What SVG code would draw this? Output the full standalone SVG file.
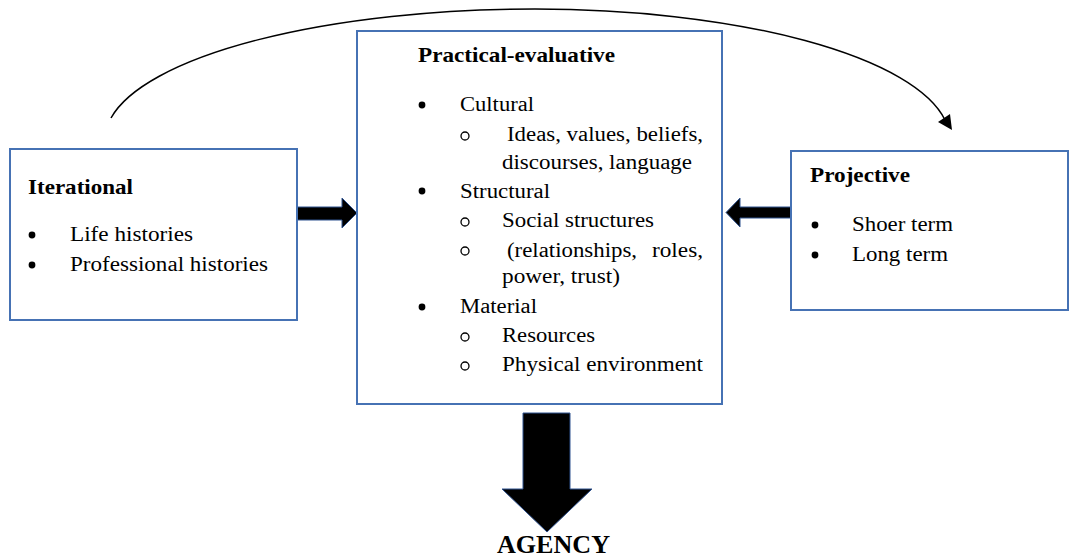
<svg xmlns="http://www.w3.org/2000/svg" width="1070" height="559" viewBox="0 0 1070 559">
<style>
.box{fill:#fff;stroke:#4672b4;stroke-width:2}
.t{font-family:"Liberation Serif","Times New Roman",serif;font-size:20px;fill:#000}
.h{font-family:"Liberation Serif","Times New Roman",serif;font-size:21px;font-weight:bold;fill:#000}
.b{fill:#000}
.ring{fill:none;stroke:#000;stroke-width:1.3}
.fat{fill:#000;stroke:#2f528f;stroke-width:1}
.curve{fill:none;stroke:#000;stroke-width:1.5}
</style>
<rect width="1070" height="559" fill="#fff"/>
<g id="connectors">
  <path class="curve" d="M111,118 A430,131 0 0 1 535,9 A415,131 0 0 1 945,120"/>
  <polygon points="938,122 950,114 952,130" fill="#000"/>
  <polygon class="fat" points="297,207 342,207 342,198 357,213 342,228 342,220 297,220"/>
  <polygon class="fat" points="791,207 740,207 740,198 726,212.5 740,227 740,218 791,218"/>
  <polygon class="fat" points="523,413 570,413 570,489 592,489 547,532 502,489 523,489"/>
</g>
<g id="iterational">
  <rect class="box" x="10" y="149" width="287" height="171"/>
  <text class="h" x="28" y="194" textLength="105" lengthAdjust="spacingAndGlyphs">Iterational</text>
  <circle class="b" cx="32" cy="235" r="3.4"/>
  <text class="t" x="70" y="241" textLength="123" lengthAdjust="spacingAndGlyphs">Life histories</text>
  <circle class="b" cx="32" cy="265" r="3.4"/>
  <text class="t" x="70" y="271" textLength="198" lengthAdjust="spacingAndGlyphs">Professional histories</text>
</g>
<g id="practical-evaluative">
  <rect class="box" x="357" y="31" width="365" height="373"/>
  <text class="h" x="418" y="62" textLength="197" lengthAdjust="spacingAndGlyphs">Practical-evaluative</text>
  <circle class="b" cx="422" cy="105" r="3.4"/>
  <text class="t" x="460" y="111" textLength="74" lengthAdjust="spacingAndGlyphs">Cultural</text>
  <circle class="ring" cx="465" cy="136" r="4"/>
  <text class="t" x="507" y="141" textLength="196" lengthAdjust="spacingAndGlyphs">Ideas, values, beliefs,</text>
  <text class="t" x="502" y="169" textLength="190" lengthAdjust="spacingAndGlyphs">discourses, language</text>
  <circle class="b" cx="422" cy="191" r="3.4"/>
  <text class="t" x="460" y="198" textLength="90" lengthAdjust="spacingAndGlyphs">Structural</text>
  <circle class="ring" cx="465" cy="222" r="4"/>
  <text class="t" x="502" y="227" textLength="152" lengthAdjust="spacingAndGlyphs">Social structures</text>
  <circle class="ring" cx="465" cy="251" r="4"/>
  <text class="t" y="257"><tspan x="507" textLength="130" lengthAdjust="spacingAndGlyphs">(relationships,</tspan> <tspan x="652" textLength="51" lengthAdjust="spacingAndGlyphs">roles,</tspan></text>
  <text class="t" x="502" y="283" textLength="118" lengthAdjust="spacingAndGlyphs">power, trust)</text>
  <circle class="b" cx="422" cy="307" r="3.4"/>
  <text class="t" x="460" y="313" textLength="77" lengthAdjust="spacingAndGlyphs">Material</text>
  <circle class="ring" cx="465" cy="337" r="4"/>
  <text class="t" x="502" y="342" textLength="93" lengthAdjust="spacingAndGlyphs">Resources</text>
  <circle class="ring" cx="465" cy="366" r="4"/>
  <text class="t" x="502" y="371" textLength="201" lengthAdjust="spacingAndGlyphs">Physical environment</text>
</g>
<g id="projective">
  <rect class="box" x="791" y="151" width="277" height="159"/>
  <text class="h" x="810" y="182" textLength="100" lengthAdjust="spacingAndGlyphs">Projective</text>
  <circle class="b" cx="815" cy="225" r="3.4"/>
  <text class="t" x="852" y="231" textLength="101" lengthAdjust="spacingAndGlyphs">Shoer term</text>
  <circle class="b" cx="815" cy="255" r="3.4"/>
  <text class="t" x="852" y="261" textLength="96" lengthAdjust="spacingAndGlyphs">Long term</text>
</g>
<g id="agency">
  <text x="497" y="553" textLength="113" lengthAdjust="spacingAndGlyphs" style="font-family:'Liberation Serif','Times New Roman',serif;font-size:26px;font-weight:bold;fill:#000">AGENCY</text>
</g>
</svg>
